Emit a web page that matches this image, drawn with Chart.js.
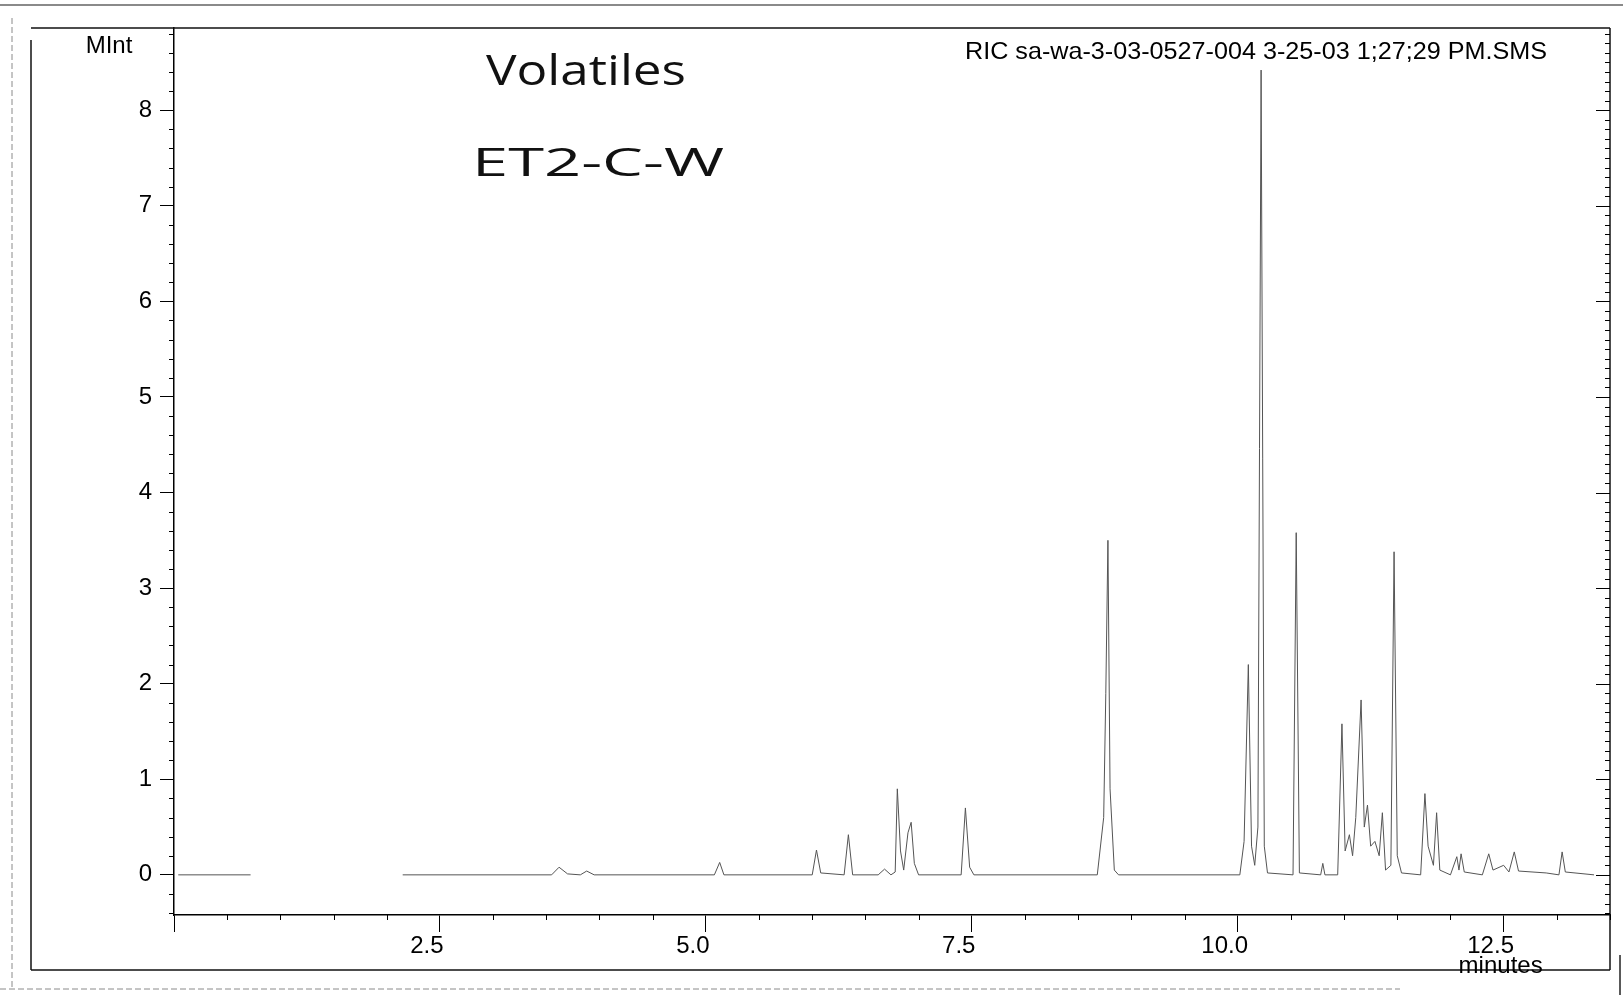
<!DOCTYPE html>
<html>
<head>
<meta charset="utf-8">
<script src="https://cdn.jsdelivr.net/npm/chart.js@4.4.1/dist/chart.umd.min.js"></script>
<style>
  html, body { margin: 0; padding: 0; background: #fff; }
  #wrap { width: 1623px; height: 995px; position: relative; }
</style>
</head>
<body>
<div id="wrap"><canvas id="ric" width="1623" height="995"></canvas></div>
<script>
// Reconstructed ion chromatogram (RIC): retention time in minutes, intensity in MInt.
// A null intensity breaks the trace (no acquisition between the early points and 2.15 min).
const retentionTimes = [
  0.04, 0.72, 1.40,
  2.15, 3.55, 3.62, 3.70, 3.82, 3.88, 3.95,
  5.08, 5.13, 5.17,
  6.00, 6.04, 6.08, 6.30, 6.34, 6.38,
  6.62, 6.68, 6.74, 6.78, 6.80, 6.83, 6.86, 6.90, 6.93, 6.96, 7.00,
  7.40, 7.44, 7.48, 7.52,
  8.68, 8.74, 8.76, 8.78, 8.80, 8.84, 8.88,
  10.02, 10.06, 10.10, 10.13, 10.16, 10.19, 10.22, 10.25, 10.28,
  10.52, 10.55, 10.58,
  10.78, 10.80, 10.82,
  10.94, 10.98, 11.01, 11.05, 11.08, 11.11, 11.16, 11.19, 11.22, 11.25,
  11.29, 11.33, 11.36, 11.39, 11.44, 11.47, 11.50, 11.54,
  11.72, 11.76, 11.79, 11.84, 11.87, 11.90,
  12.00, 12.06, 12.08, 12.10, 12.13,
  12.30, 12.36, 12.40, 12.50, 12.55, 12.60, 12.64,
  12.90, 13.02, 13.05, 13.08, 13.35
];
const intensities = [
  0, 0, null,
  0, 0, 0.08, 0.01, 0, 0.04, 0,
  0, 0.13, 0,
  0, 0.26, 0.02, 0, 0.42, 0,
  0, 0.06, 0, 0.03, 0.90, 0.25, 0.05, 0.44, 0.55, 0.12, 0,
  0, 0.70, 0.08, 0,
  0, 0.60, 1.90, 3.50, 0.90, 0.05, 0,
  0, 0.35, 2.20, 0.30, 0.10, 0.50, 8.42, 0.30, 0.02,
  0, 3.58, 0.02,
  0, 0.12, 0,
  0, 1.58, 0.25, 0.42, 0.20, 0.60, 1.83, 0.50, 0.73, 0.30,
  0.35, 0.20, 0.65, 0.05, 0.10, 3.38, 0.20, 0.02,
  0, 0.85, 0.30, 0.10, 0.65, 0.05,
  0, 0.19, 0.05, 0.22, 0.03,
  0, 0.22, 0.05, 0.10, 0.03, 0.24, 0.04,
  0.02, 0, 0.24, 0.03, 0
];

// Axis ticks and labels
const yTickValues = [0, 1, 2, 3, 4, 5, 6, 7, 8];
const xTickValues = [0, 2.5, 5, 7.5, 10, 12.5];
const xTickLabels = ['', '2.5', '5.0', '7.5', '10.0', '12.5'];
const yUnitLabel = 'MInt';
const xUnitLabel = 'minutes';
const headerText = 'RIC sa-wa-3-03-0527-004 3-25-03 1;27;29 PM.SMS';
const sampleNotes = ['Volatiles', 'ET2-C-W'];

const traceData = retentionTimes.map((t, i) => ({ x: t, y: intensities[i] }));

function strokeLine(ctx, x1, y1, x2, y2) {
  ctx.beginPath();
  ctx.moveTo(x1, y1);
  ctx.lineTo(x2, y2);
  ctx.stroke();
}

function fillFitted(ctx, text, left, right, baseline, font) {
  ctx.save();
  ctx.font = font;
  ctx.textAlign = 'left';
  ctx.textBaseline = 'alphabetic';
  const w = ctx.measureText(text).width;
  ctx.translate(left, baseline);
  ctx.scale((right - left) / w, 1);
  ctx.fillText(text, 0, 0);
  ctx.restore();
}

// White page, printed frame, minor ticks and the annotations
const printout = {
  id: 'printout',
  beforeDraw(chart) {
    const ctx = chart.ctx;
    ctx.save();
    ctx.fillStyle = '#fff';
    ctx.fillRect(0, 0, chart.width, chart.height);
    ctx.restore();
  },
  afterDraw(chart) {
    const { ctx, chartArea: a, scales: { x, y } } = chart;
    ctx.save();

    // paper edges
    ctx.strokeStyle = '#8a8a8a';
    ctx.lineWidth = 2;
    strokeLine(ctx, 0, 5, chart.width, 5);
    ctx.lineWidth = 1;
    ctx.setLineDash([6, 3]);
    strokeLine(ctx, 12, 18, 12, 990);
    strokeLine(ctx, 0, 989, 1400, 989);
    ctx.setLineDash([]);
    ctx.strokeStyle = '#222';
    ctx.lineWidth = 1.5;
    strokeLine(ctx, 1620, 955, 1620, 995);

    // plot frame
    ctx.strokeStyle = '#111';
    ctx.lineWidth = 1.5;
    strokeLine(ctx, 31, a.top, a.right, a.top);
    strokeLine(ctx, a.right, a.top, a.right, 970);
    strokeLine(ctx, 31, 970, a.right, 970);
    strokeLine(ctx, 31, 40, 31, 970);

    ctx.lineWidth = 1;
    ctx.strokeStyle = '#000';
    // left axis minor ticks (0.2 MInt)
    for (let k = Math.ceil(y.min / 0.2); k * 0.2 <= y.max + 1e-9; k++) {
      const v = k * 0.2;
      if (Math.abs(v - Math.round(v)) < 1e-6 && v >= 0) continue;
      const py = Math.round(y.getPixelForValue(v)) + 0.5;
      strokeLine(ctx, a.left - 5, py, a.left, py);
    }
    // right edge ticks pointing inward (0.1 minor, 1.0 major)
    for (let k = Math.ceil(y.min / 0.1); k * 0.1 <= y.max + 1e-9; k++) {
      const v = k * 0.1;
      const major = Math.abs(v - Math.round(v)) < 1e-6;
      const py = Math.round(y.getPixelForValue(v)) + 0.5;
      strokeLine(ctx, a.right - (major ? 14 : 5), py, a.right, py);
    }
    // bottom axis minor ticks (0.5 min)
    for (let k = 1; k * 0.5 <= x.max; k++) {
      const v = k * 0.5;
      if (Math.abs(v / 2.5 - Math.round(v / 2.5)) < 1e-6) continue;
      const px = Math.round(x.getPixelForValue(v)) + 0.5;
      strokeLine(ctx, px, a.bottom, px, a.bottom + 5);
    }

    // axis units and header
    ctx.fillStyle = '#000';
    ctx.font = '24px "Liberation Sans", Arial, sans-serif';
    ctx.textAlign = 'center';
    ctx.textBaseline = 'middle';
    ctx.fillText(yUnitLabel, 109, 46);
    ctx.fillText(xUnitLabel, x.getPixelForValue(12.5) - 3, 966);
    fillFitted(ctx, headerText, 965, 1547, 59, '24px "Liberation Sans", Arial, sans-serif');

    // handwritten sample notes
    ctx.fillStyle = '#111';
    fillFitted(ctx, sampleNotes[0], 486, 686, 85, '42px "Open Sans", sans-serif');
    fillFitted(ctx, sampleNotes[1], 472, 724, 176, '38px "Open Sans", sans-serif');

    ctx.restore();
  }
};

const tickFont = { family: '"Liberation Sans", Arial, sans-serif', size: 24 };

new Chart(document.getElementById('ric'), {
  type: 'line',
  data: {
    datasets: [{
      data: traceData,
      borderColor: '#555',
      borderWidth: 1,
      pointRadius: 0,
      tension: 0,
      spanGaps: false,
      fill: false
    }]
  },
  options: {
    responsive: false,
    animation: false,
    devicePixelRatio: 1,
    layout: { padding: { left: 0, top: 28, right: 13, bottom: 0 } },
    plugins: { legend: { display: false }, tooltip: { enabled: false }, title: { display: false } },
    scales: {
      x: {
        type: 'linear',
        min: 0,
        max: 13.5,
        afterFit(scale) { scale.height = 80; },
        afterBuildTicks(scale) { scale.ticks = xTickValues.map(v => ({ value: v })); },
        ticks: {
          color: '#000',
          font: tickFont,
          padding: 0,
          labelOffset: -13,
          maxRotation: 0,
          autoSkip: false,
          callback(value) {
            const i = xTickValues.indexOf(value);
            return i >= 0 ? xTickLabels[i] : '';
          }
        },
        grid: { drawOnChartArea: false, drawTicks: true, tickLength: 17, tickColor: '#000', tickWidth: 1 },
        border: { display: true, color: '#000', width: 1.5 }
      },
      y: {
        type: 'linear',
        min: -0.42,
        max: 8.86,
        afterFit(scale) { scale.width = 174; },
        afterBuildTicks(scale) { scale.ticks = yTickValues.map(v => ({ value: v })); },
        ticks: {
          color: '#000',
          font: tickFont,
          padding: 8,
          autoSkip: false,
          callback(value) { return String(value); }
        },
        grid: { drawOnChartArea: false, drawTicks: true, tickLength: 14, tickColor: '#000', tickWidth: 1 },
        border: { display: true, color: '#000', width: 1.5 }
      }
    }
  },
  plugins: [printout]
});
</script>
</body>
</html>
